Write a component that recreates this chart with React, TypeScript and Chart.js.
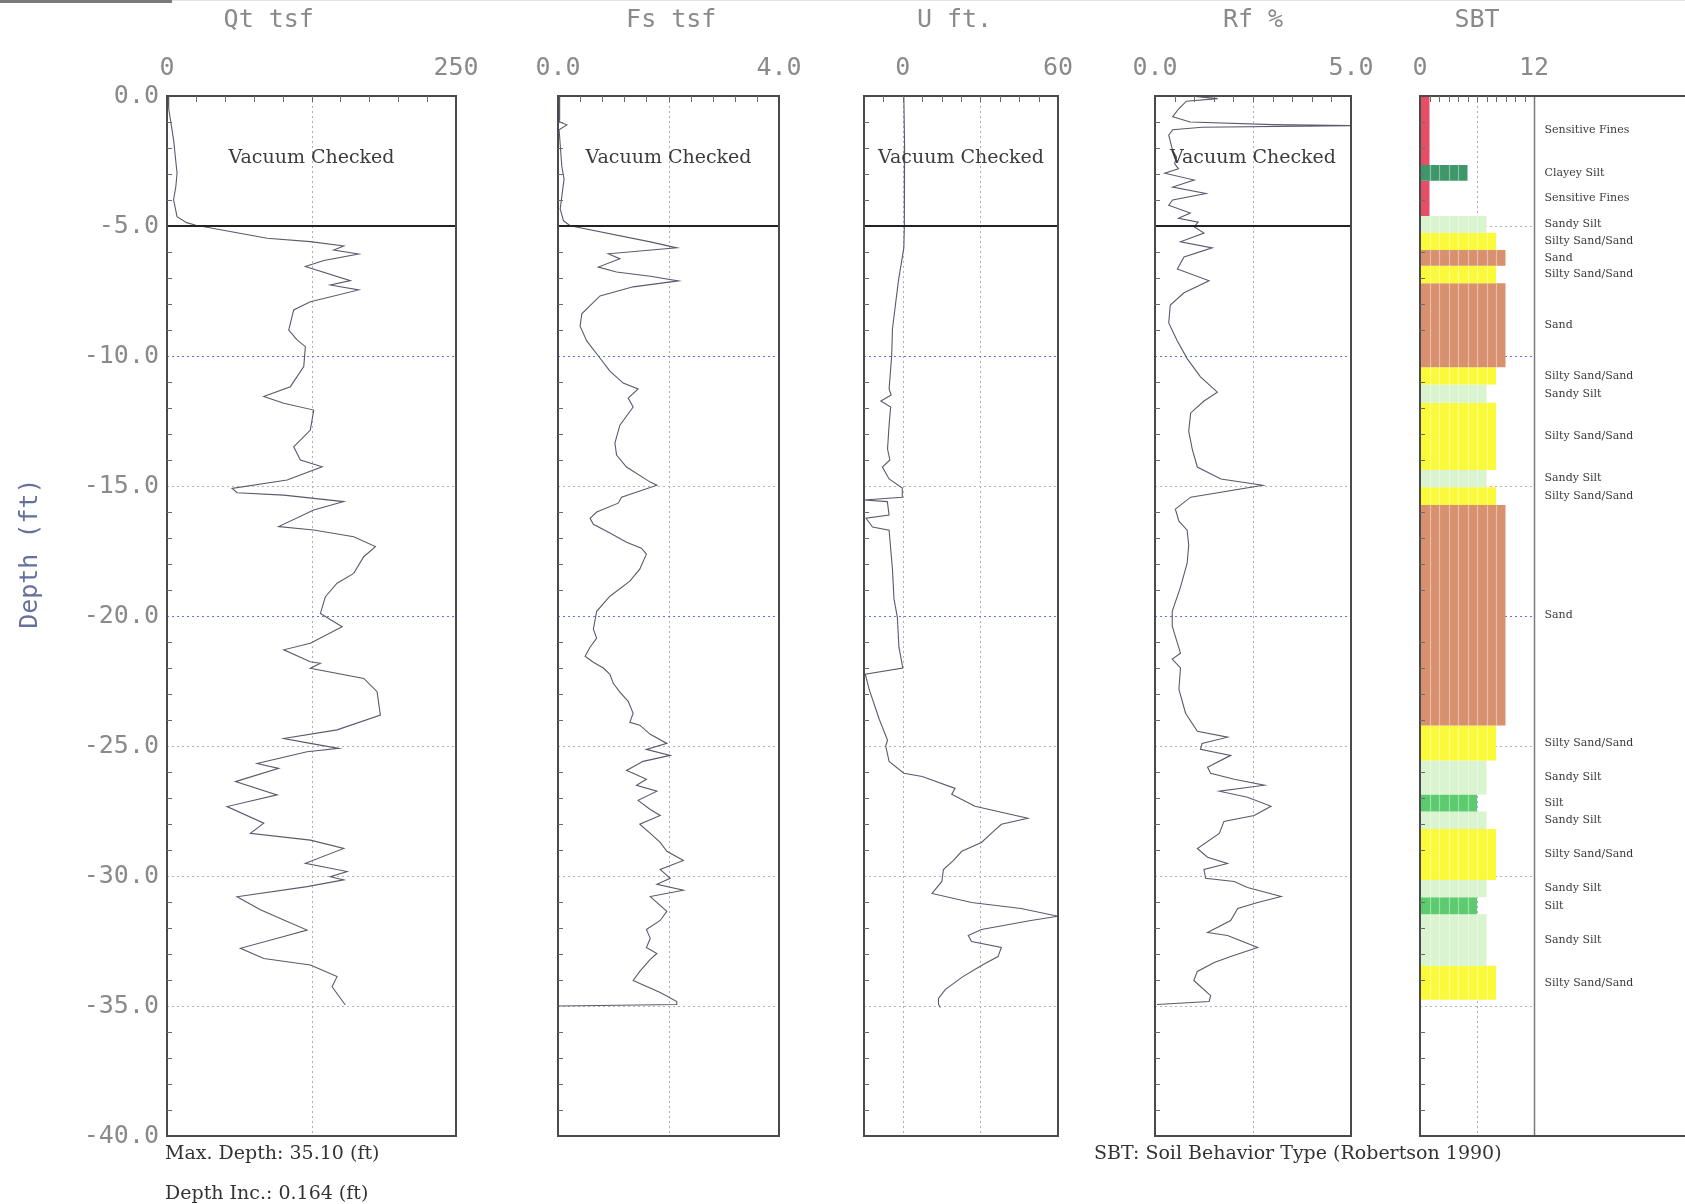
import React, { useEffect, useRef } from "react";
import { Chart, registerables } from "chart.js";

Chart.register(...registerables);

// ---------- data: [depth ft, value] ----------
const qtProfile: number[][] = [
  [0, 1], [0.5, 1.5], [1.69, 5.7], [2.97, 8.7], [3.5, 7.6], [3.99, 5.7], [4.64, 8.7], [4.87, 17], [4.97, 25],
  [5.47, 86.6], [5.6, 124], [5.77, 152.9], [5.92, 144.2], [6.08, 165.8], [6.33, 135.6], [6.56, 119.7],
  [7.1, 158.6], [7.27, 141.3], [7.46, 165.8], [7.91, 124], [8.23, 109.6], [9.0, 105.3], [9.38, 112.5],
  [9.64, 119.7], [10.41, 118.3], [11.18, 106.7], [11.56, 83.7], [11.82, 101], [12.08, 126.9], [12.85, 124],
  [13.49, 109.6], [14.0, 115.4], [14.26, 134.2], [14.77, 103.9], [15.09, 56.3], [15.26, 60.6], [15.35, 101],
  [15.6, 152.9], [15.92, 126.9], [16.56, 96.6], [16.69, 126.9], [16.95, 161.5], [17.33, 180.3], [17.72, 170.2],
  [18.36, 161.5], [18.74, 147.1], [19.26, 137], [19.9, 132.7], [20.41, 151.5], [21.05, 124], [21.3, 101],
  [21.76, 124], [21.82, 132.7], [22.01, 124], [22.4, 170.2], [22.91, 181.7], [23.81, 184.6], [24.38, 147.1],
  [24.71, 101], [24.9, 124], [25.09, 148.5], [25.22, 121.2], [25.67, 77.9], [25.86, 96.6], [26.37, 59.2],
  [26.88, 95.2], [27.33, 52], [27.97, 83.7], [28.36, 72.1], [28.62, 124], [28.94, 152.9], [29.51, 119.7],
  [29.83, 155.8], [30.03, 141.3], [30.15, 152.9], [30.41, 121.2], [30.8, 60.6], [31.3, 80.8], [31.69, 101],
  [32.08, 121.2], [32.33, 101], [32.78, 63.5], [33.17, 83.7], [33.42, 124], [33.87, 147.1], [34.26, 142.8],
  [34.96, 154.3],
];

const fsProfile: number[][] = [
  [0, 0.02], [1.0, 0.03], [1.11, 0.16], [1.3, 0.02], [2.73, 0.07], [3.19, 0.11], [4.34, 0.04], [4.8, 0.1],
  [4.99, 0.22], [5.61, 1.67], [5.84, 2.15], [6.07, 0.91], [6.26, 1.12], [6.58, 0.73], [6.77, 1.06], [6.93, 1.67],
  [7.11, 2.18], [7.34, 1.36], [7.69, 0.76], [8.38, 0.43], [8.85, 0.4], [9.42, 0.52], [10.0, 0.73], [10.58, 0.94],
  [11.04, 1.18], [11.27, 1.45], [11.62, 1.27], [11.96, 1.36], [12.66, 1.12], [13.35, 1.03], [13.81, 1.06],
  [14.27, 1.24], [14.85, 1.67], [14.97, 1.79], [15.43, 1.15], [15.66, 1.09], [16.0, 0.7], [16.24, 0.58],
  [16.47, 0.64], [16.81, 0.94], [17.16, 1.24], [17.39, 1.51], [17.62, 1.6], [18.2, 1.48], [18.66, 1.3],
  [19.24, 0.94], [19.82, 0.7], [20.51, 0.64], [20.85, 0.7], [21.2, 0.58], [21.55, 0.49], [21.78, 0.64],
  [22.0, 0.82], [22.24, 0.94], [22.59, 1.0], [22.93, 1.12], [23.28, 1.27], [23.74, 1.36], [24.09, 1.3],
  [24.2, 1.48], [24.55, 1.67], [24.9, 1.97], [25.13, 1.6], [25.36, 2.03], [25.59, 1.54], [25.94, 1.24],
  [26.05, 1.36], [26.28, 1.6], [26.51, 1.42], [26.74, 1.79], [27.09, 1.45], [27.44, 1.67], [27.67, 1.85],
  [28.01, 1.48], [28.36, 1.67], [28.71, 1.85], [29.05, 1.97], [29.4, 2.27], [29.75, 1.85], [30.09, 2.03],
  [30.32, 1.79], [30.55, 2.27], [30.79, 1.67], [31.36, 1.97], [31.71, 1.85], [32.06, 1.6], [32.4, 1.67],
  [32.75, 1.6], [32.98, 1.79], [33.21, 1.67], [33.67, 1.48], [34.02, 1.36], [34.48, 1.85], [34.83, 2.15],
  [34.94, 2.15], [35.0, 0.02],
];

const uProfile: number[][] = [
  [0, 0.4], [2.0, 0.7], [5.0, 0.6], [5.84, 0.4], [7.11, -1.7], [8.96, -4.0], [10.0, -4.3], [11.27, -5.3],
  [11.5, -4.5], [11.73, -8.5], [11.96, -4.7], [12.66, -5.3], [13.58, -5.9], [14.0, -5.0], [14.27, -7.9],
  [14.73, -5.3], [15.08, -0.2], [15.43, -0.2], [15.54, -15], [15.6, -6.0], [15.66, -5.9], [16.12, -5.3],
  [16.24, -14.2], [16.58, -11.7], [16.7, -5.3], [18.2, -4.0], [19.35, -3.4], [20.05, -2.1], [21.2, -1.5],
  [22.0, 0.0], [22.24, -14.5], [22.82, -13.0], [23.97, -9.1], [24.78, -5.9], [25.0, -6.6], [25.59, -5.3],
  [26.05, 0.4], [26.17, 7.5], [26.63, 20.2], [26.86, 18.9], [27.32, 27.9], [27.78, 48.3], [28.01, 38.1],
  [28.36, 34.2], [28.71, 30.4], [29.05, 22.8], [29.4, 19.6], [29.75, 15.7], [30.21, 15.1], [30.67, 11.3],
  [31.02, 26.6], [31.25, 45.7], [31.55, 60], [31.71, 49.5], [32.06, 30.4], [32.29, 25.3], [32.52, 26.6],
  [32.75, 38.1], [33.1, 36.8], [33.44, 30.4], [33.9, 22.8], [34.37, 16.4], [34.71, 13.8], [34.94, 13.8],
  [35.06, 14.5],
];

const rfProfile: number[][] = [
  [0, 0.9], [0.1, 1.6], [0.2, 0.8], [0.5, 0.6], [0.8, 0.45], [1.0, 0.9], [1.1, 3.0], [1.14, 5.0], [1.2, 1.2],
  [1.3, 0.45], [1.5, 0.35], [1.8, 0.4], [2.1, 0.45], [2.35, 0.55], [2.6, 0.5], [2.8, 0.6], [2.97, 0.25],
  [3.23, 1.0], [3.5, 0.45], [3.75, 1.3], [4.0, 0.45], [4.2, 0.35], [4.5, 0.9], [4.7, 0.6], [4.85, 1.1],
  [5.03, 1.0], [5.27, 1.25], [5.61, 0.65], [5.84, 1.46], [6.19, 0.74], [6.65, 0.57], [7.11, 1.38], [7.57, 0.74],
  [8.04, 0.39], [8.73, 0.35], [9.42, 0.57], [10.1, 0.82], [10.8, 1.16], [11.39, 1.59], [11.73, 1.25],
  [12.19, 0.91], [12.89, 0.86], [13.58, 0.95], [14.27, 1.08], [14.73, 1.68], [14.97, 2.75], [15.43, 0.91],
  [15.89, 0.52], [16.35, 0.61], [16.7, 0.82], [17.27, 0.86], [17.97, 0.82], [18.89, 0.65], [19.82, 0.44],
  [20.39, 0.44], [21.43, 0.65], [21.66, 0.44], [22.0, 0.65], [22.82, 0.61], [23.74, 0.78], [24.43, 1.08],
  [24.66, 1.85], [24.9, 1.2], [25.13, 1.16], [25.36, 1.93], [25.82, 1.34], [26.05, 1.42], [26.28, 2.02],
  [26.51, 2.79], [26.74, 1.64], [26.97, 2.36], [27.32, 2.96], [27.67, 2.53], [27.9, 1.76], [28.36, 1.64],
  [28.94, 1.08], [29.28, 1.34], [29.52, 1.85], [29.75, 1.25], [30.09, 1.29], [30.21, 2.02], [30.44, 2.36],
  [30.79, 3.22], [31.02, 2.62], [31.25, 2.11], [31.71, 1.93], [32.17, 1.34], [32.29, 1.85], [32.75, 2.62],
  [33.1, 1.93], [33.33, 1.51], [33.67, 1.08], [34.02, 0.99], [34.6, 1.42], [34.83, 1.38], [34.94, 0.05],
];

// SBT layers
const sbtTop = [0, 2.65, 3.26, 4.62, 5.26, 5.92, 6.53, 7.2, 10.43, 11.1, 11.8, 14.38, 15.05, 15.73, 24.21, 25.56, 26.87, 27.52, 28.19, 30.15, 30.82, 31.47, 33.45];
const sbtBottom = [2.65, 3.26, 4.62, 5.26, 5.92, 6.53, 7.2, 10.43, 11.1, 11.8, 14.38, 15.05, 15.73, 24.21, 25.56, 26.87, 27.52, 28.19, 30.15, 30.82, 31.47, 33.45, 34.76];
const sbtZone = [1, 5, 1, 7, 8, 9, 8, 9, 8, 7, 8, 7, 8, 9, 8, 7, 6, 7, 8, 7, 6, 7, 8];
const zoneName: Record<number, string> = {
  1: "Sensitive Fines", 5: "Clayey Silt", 6: "Silt", 7: "Sandy Silt", 8: "Silty Sand/Sand", 9: "Sand",
};
const zoneColor: Record<number, string> = {
  1: "#e64d66", 5: "#3d976a", 6: "#5ccb70", 7: "#d9f4cf", 8: "#fafa3a", 9: "#d8906f",
};

// axis tick labels
const qtTicks = [0, 250];
const fsTicks = [0, 4];
const uTicks = [0, 60];
const rfTicks = [0, 5];
const sbtTicks = [0, 12];
const depthGridLines = [5, 10, 15, 20, 25, 30, 35];
const blueGridLines = [10, 20];

// ---------- layout ----------
const PAGE_W = 1685;
const PAGE_H = 1204;
const CHART_TOP = 96;
const CHART_BOTTOM = 1136;
const MONO = '"DejaVu Sans Mono", monospace';
const SERIF = '"DejaVu Serif", serif';

type Panel = {
  id: string;
  title: string;
  titleAt: number;
  canvasLeft: number;
  padL: number;
  padR: number;
  axisW: number;
  width: number;
  xMin: number;
  xMax: number;
  tickValues: number[];
  decimals: number;
  dottedX: number[];
  divStart: number;
  divEnd: number;
  divisions: number;
  vacuum: boolean;
  depthAxis: boolean;
  sbt: boolean;
  series: number[][];
};

const panels: Panel[] = [
  { id: "qt", title: "Qt tsf", titleAt: 88, canvasLeft: 0, padL: 0, padR: 50, axisW: 167, width: 289, xMin: 0, xMax: 250, tickValues: qtTicks, decimals: 0, dottedX: [125], divStart: 0, divEnd: 250, divisions: 10, vacuum: true, depthAxis: true, sbt: false, series: qtProfile },
  { id: "fs", title: "Fs tsf", titleAt: 2.05, canvasLeft: 508, padL: 50, padR: 50, axisW: 0, width: 221, xMin: 0, xMax: 4, tickValues: fsTicks, decimals: 1, dottedX: [2], divStart: 0, divEnd: 4, divisions: 10, vacuum: true, depthAxis: false, sbt: false, series: fsProfile },
  { id: "u", title: "U ft.", titleAt: 20, canvasLeft: 814, padL: 50, padR: 50, axisW: 0, width: 194, xMin: -15, xMax: 60, tickValues: uTicks, decimals: 0, dottedX: [0, 30], divStart: -15, divEnd: 60, divisions: 10, vacuum: true, depthAxis: false, sbt: false, series: uProfile },
  { id: "rf", title: "Rf %", titleAt: 2.5, canvasLeft: 1105, padL: 50, padR: 50, axisW: 0, width: 196, xMin: 0, xMax: 5, tickValues: rfTicks, decimals: 1, dottedX: [2.5], divStart: 0, divEnd: 5, divisions: 10, vacuum: true, depthAxis: false, sbt: false, series: rfProfile },
  { id: "sbt", title: "SBT", titleAt: 6, canvasLeft: 1370, padL: 50, padR: 0, axisW: 0, width: 266, xMin: 0, xMax: 28, tickValues: sbtTicks, decimals: 0, dottedX: [6], divStart: 0, divEnd: 12, divisions: 12, vacuum: false, depthAxis: false, sbt: true, series: [] },
];

function seg(ctx: CanvasRenderingContext2D, x1: number, y1: number, x2: number, y2: number) {
  ctx.beginPath();
  ctx.moveTo(x1, y1);
  ctx.lineTo(x2, y2);
  ctx.stroke();
}

function makeDecor(p: Panel) {
  return {
    id: "cptDecor_" + p.id,
    beforeDatasetsDraw(chart: any) {
      const { ctx, chartArea: ca, scales } = chart;
      const xs = scales.x;
      const ys = scales.y;
      const hEnd = p.sbt ? xs.getPixelForValue(12) : ca.right;
      ctx.save();
      ctx.lineWidth = 1;
      ctx.setLineDash([2, 3]);
      for (const v of p.dottedX) {
        const px = Math.round(xs.getPixelForValue(v)) + 0.5;
        ctx.strokeStyle = "#a6adc6";
        seg(ctx, px, ca.top, px, ca.bottom);
      }
      for (const d of depthGridLines) {
        const py = Math.round(ys.getPixelForValue(-d)) + 0.5;
        ctx.strokeStyle = blueGridLines.includes(d) ? "#6272d8" : "#b2b2b8";
        seg(ctx, ca.left, py, hEnd, py);
      }
      ctx.restore();
    },
    afterDatasetsDraw(chart: any) {
      const { ctx, chartArea: ca, scales } = chart;
      const xs = scales.x;
      const ys = scales.y;
      ctx.save();
      ctx.setLineDash([]);
      if (p.sbt) {
        // texture stripes inside bars
        ctx.strokeStyle = "rgba(255,255,255,0.4)";
        ctx.lineWidth = 1.2;
        for (let i = 0; i < sbtZone.length; i++) {
          const yT = ys.getPixelForValue(-sbtTop[i]);
          const yB = ys.getPixelForValue(-sbtBottom[i]);
          for (let k = 1; k < sbtZone[i]; k++) {
            const px = Math.round(xs.getPixelForValue(k)) + 0.5;
            seg(ctx, px, yT, px, yB);
          }
        }
        // vertical line at 12
        const p12 = Math.round(xs.getPixelForValue(12)) + 0.5;
        ctx.strokeStyle = "#7a7a7a";
        ctx.lineWidth = 1.5;
        seg(ctx, p12, ca.top, p12, ca.bottom);
        // layer labels
        ctx.font = `11px ${SERIF}`;
        ctx.fillStyle = "#3a3a3a";
        ctx.textAlign = "left";
        ctx.textBaseline = "middle";
        for (let i = 0; i < sbtZone.length; i++) {
          const mid = (sbtTop[i] + sbtBottom[i]) / 2;
          ctx.fillText(zoneName[sbtZone[i]], p12 + 10, ys.getPixelForValue(-mid));
        }
      }
      if (p.vacuum) {
        ctx.strokeStyle = "#222";
        ctx.lineWidth = 2;
        const py = ys.getPixelForValue(-5);
        seg(ctx, ca.left, py, ca.right, py);
        ctx.font = `19px ${SERIF}`;
        ctx.fillStyle = "#3c3c3c";
        ctx.textAlign = "center";
        ctx.textBaseline = "middle";
        ctx.fillText("Vacuum Checked", (ca.left + ca.right) / 2, ys.getPixelForValue(-2.4));
      }
      // frame
      ctx.strokeStyle = "#4a4a4a";
      ctx.lineWidth = 2;
      seg(ctx, ca.left, ca.top, ca.right, ca.top);
      seg(ctx, ca.left, ca.bottom, ca.right, ca.bottom);
      seg(ctx, ca.left, ca.top - 1, ca.left, ca.bottom + 1);
      if (!p.sbt) seg(ctx, ca.right, ca.top - 1, ca.right, ca.bottom + 1);
      // minor ticks
      ctx.strokeStyle = "#6a6a6a";
      ctx.lineWidth = 1;
      const step = (p.divEnd - p.divStart) / p.divisions;
      for (let k = 1; k < p.divisions; k++) {
        const px = Math.round(xs.getPixelForValue(p.divStart + k * step)) + 0.5;
        seg(ctx, px, ca.top, px, ca.top + 6);
      }
      for (let d = 1; d < 40; d++) {
        if (d % 5 === 0) continue;
        const py = Math.round(ys.getPixelForValue(-d)) + 0.5;
        seg(ctx, ca.left, py, ca.left + 5, py);
      }
      // panel title
      ctx.font = `25px ${MONO}`;
      ctx.fillStyle = "#8a8a8a";
      ctx.textAlign = "center";
      ctx.textBaseline = "middle";
      ctx.fillText(p.title, xs.getPixelForValue(p.titleAt), 20);
      if (p.depthAxis) {
        ctx.save();
        ctx.translate(30, ys.getPixelForValue(-17.6));
        ctx.rotate(-Math.PI / 2);
        ctx.fillStyle = "#65719a";
        ctx.fillText("Depth (ft)", 0, 0);
        ctx.restore();
      }
      ctx.restore();
    },
  };
}

function buildConfig(p: Panel): any {
  const datasets = p.sbt
    ? sbtZone.map((z, i) => ({
        data: [
          { x: 0, y: -sbtTop[i] },
          { x: z, y: -sbtTop[i] },
          { x: z, y: -sbtBottom[i] },
          { x: 0, y: -sbtBottom[i] },
        ],
        showLine: true,
        fill: "shape",
        backgroundColor: zoneColor[z],
        borderColor: zoneColor[z],
        borderWidth: 0,
        pointRadius: 0,
        pointHoverRadius: 0,
      }))
    : [
        {
          data: p.series.map(([d, v]) => ({ x: v, y: -d })),
          showLine: true,
          fill: false,
          borderColor: "#5a5a6c",
          borderWidth: 1.1,
          pointRadius: 0,
          pointHoverRadius: 0,
          tension: 0,
        },
      ];
  const tickFont = { family: MONO, size: 25 };
  return {
    type: "scatter",
    data: { datasets },
    options: {
      responsive: false,
      animation: false,
      devicePixelRatio: 1,
      events: [],
      layout: { padding: { left: p.padL, right: p.padR, top: 0, bottom: PAGE_H - CHART_BOTTOM } },
      plugins: { legend: { display: false }, tooltip: { enabled: false }, title: { display: false } },
      scales: {
        x: {
          type: "linear",
          position: "top",
          min: p.xMin,
          max: p.xMax,
          afterBuildTicks: (s: any) => {
            s.ticks = p.tickValues.map((v) => ({ value: v }));
          },
          afterFit: (s: any) => {
            s.height = CHART_TOP;
          },
          grid: { display: false, drawTicks: false },
          border: { display: false },
          ticks: {
            callback: (v: any) => Number(v).toFixed(p.decimals),
            font: tickFont,
            color: "#8a8a8a",
            padding: 13,
            maxRotation: 0,
            minRotation: 0,
            autoSkip: false,
          },
        },
        y: {
          type: "linear",
          display: p.depthAxis,
          min: -40,
          max: 0,
          afterFit: (s: any) => {
            s.width = p.axisW;
          },
          grid: { display: false, drawTicks: false },
          border: { display: false },
          ticks: {
            stepSize: 5,
            callback: (v: any) => Number(v).toFixed(1),
            font: tickFont,
            color: "#8a8a8a",
            padding: 8,
          },
        },
      },
    },
    plugins: [makeDecor(p)],
  };
}

function PanelChart({ p }: { p: Panel }) {
  const ref = useRef<HTMLCanvasElement | null>(null);
  const w = p.padL + p.axisW + p.width + p.padR;
  useEffect(() => {
    if (!ref.current) return;
    const chart = new Chart(ref.current, buildConfig(p));
    return () => chart.destroy();
  }, []);
  return (
    <canvas
      ref={ref}
      width={w}
      height={PAGE_H}
      style={{ position: "absolute", left: p.canvasLeft, top: 0, width: w, height: PAGE_H }}
    />
  );
}

const noteStyle: React.CSSProperties = {
  position: "absolute",
  fontFamily: SERIF,
  fontSize: 19,
  lineHeight: "24px",
  color: "#333",
  whiteSpace: "nowrap",
};

export default function App() {
  return (
    <div
      style={{
        position: "absolute",
        left: 0,
        top: 0,
        width: PAGE_W,
        height: PAGE_H,
        overflow: "hidden",
        background: "#fff",
      }}
    >
      <div style={{ position: "absolute", left: 0, top: 0, width: 172, height: 3, background: "#7a7a7a" }} />
      <div style={{ position: "absolute", left: 172, top: 0, width: PAGE_W - 172, height: 1, background: "#e4e4e4" }} />
      {panels.map((p) => (
        <PanelChart key={p.id} p={p} />
      ))}
      <div style={{ ...noteStyle, left: 165, top: 1140 }}>Max. Depth: 35.10 (ft)</div>
      <div style={{ ...noteStyle, left: 165, top: 1180 }}>Depth Inc.: 0.164 (ft)</div>
      <div style={{ ...noteStyle, left: 1094, top: 1140 }}>SBT: Soil Behavior Type (Robertson 1990)</div>
    </div>
  );
}
